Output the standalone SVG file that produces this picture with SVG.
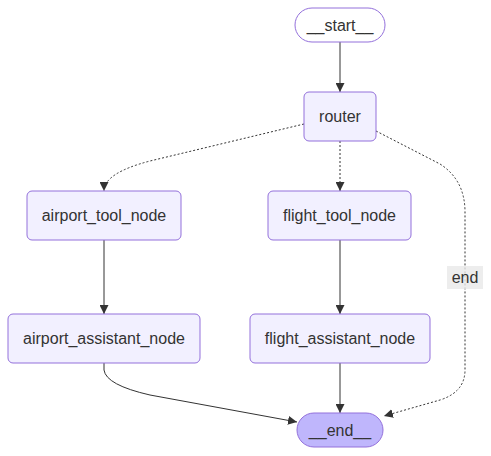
<svg xmlns="http://www.w3.org/2000/svg" width="491" height="456" viewBox="0 0 491 456">
<defs>
<marker id="arrow" viewBox="0 0 10 10" refX="10" refY="5" markerUnits="userSpaceOnUse" markerWidth="9" markerHeight="9" orient="auto">
<path d="M0,0 L10,5 L0,10 z" fill="#333"/>
</marker>
<style>
.node rect{fill:#f2f0ff;stroke:#9370db;stroke-width:1}
.node.term rect{fill:#ffffff}
.node.last rect{fill:#bfb6fc}
text{font-family:"Liberation Sans",Arial,sans-serif;font-size:16px;fill:#333;text-anchor:middle;dominant-baseline:central}
.edge{fill:none;stroke:#333;stroke-width:1;marker-end:url(#arrow)}
.dot{stroke-dasharray:2 2}
</style>
</defs>
<rect width="491" height="456" fill="#ffffff"/>
<g id="connectors">
<path class="edge" d="M340,42 L340,92"/>
<path class="edge dot" d="M304,124 L150,161 Q104,173 104,191"/>
<path class="edge dot" d="M340,141 L340,191"/>
<path class="edge dot" d="M376,131 L440,164 Q465,180 465,212 L465,370 Q465,392 440,400 L384,416"/>
<path class="edge" d="M104,240 L104,314"/>
<path class="edge" d="M340,240 L340,314"/>
<path class="edge" d="M340,363 L340,413"/>
<path class="edge" d="M104,363 L104,370 Q106,385 150,395 L297,422"/>
<g id="label-end">
<rect x="447" y="266" width="36" height="23" fill="#e8e8e8" fill-opacity="0.8"/>
<text x="465" y="277.5">end</text>
</g>
</g>
<g id="start" class="node term">
<rect x="295" y="8" width="90" height="34" rx="17" ry="17"/>
<text x="340" y="25">__start__</text>
</g>
<g id="router" class="node">
<rect x="304" y="92" width="72" height="49" rx="5" ry="5"/>
<text x="340" y="116.5">router</text>
</g>
<g id="airport_tool_node" class="node">
<rect x="27" y="191" width="154" height="49" rx="5" ry="5"/>
<text x="104" y="215.5">airport_tool_node</text>
</g>
<g id="flight_tool_node" class="node">
<rect x="268" y="191" width="143" height="49" rx="5" ry="5"/>
<text x="339.5" y="215.5">flight_tool_node</text>
</g>
<g id="airport_assistant_node" class="node">
<rect x="8" y="314" width="192" height="49" rx="5" ry="5"/>
<text x="104" y="338.5">airport_assistant_node</text>
</g>
<g id="flight_assistant_node" class="node">
<rect x="250" y="314" width="180" height="49" rx="5" ry="5"/>
<text x="340" y="338.5">flight_assistant_node</text>
</g>
<g id="end" class="node last">
<rect x="297" y="413" width="86" height="34" rx="17" ry="17"/>
<text x="340" y="430">__end__</text>
</g>
</svg>
